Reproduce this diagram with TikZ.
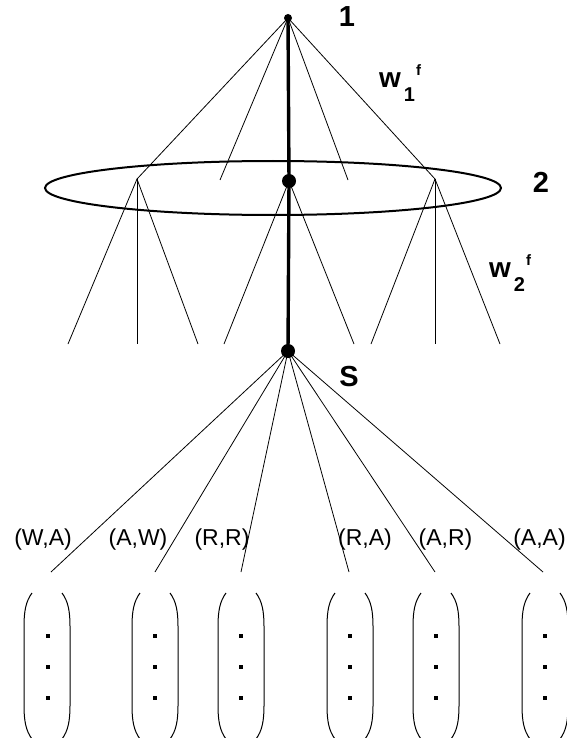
\documentclass[tikz,border=0pt]{standalone}
\usepackage{fontspec}
\usepackage{graphicx}
\setmainfont{Liberation Sans}
\newcommand{\wlabel}[1]{\fontsize{28}{28}\selectfont\bfseries w\hspace{3pt}\raisebox{-14pt}{\fontsize{20}{20}\selectfont #1}\hspace{1pt}\raisebox{12pt}{\fontsize{15}{15}\selectfont f}}
\begin{document}
\begin{tikzpicture}[x=1pt,y=-1pt,
  thinline/.style={line width=0.8pt},
  heavy/.style={line width=3.4pt},
  dotnode/.style={circle,fill=black,inner sep=0pt},
  lbl/.style={font=\fontsize{23}{23}\selectfont, inner sep=0pt, anchor=base},
  big/.style={font=\fontsize{29}{29}\selectfont\bfseries, inner sep=0pt, anchor=base},
  paren/.style={line width=1pt}]
\useasboundingbox (0,0) rectangle (566,738);
% ellipse for level 2
\draw[line width=2pt] (273,188) ellipse [x radius=228, y radius=27];
% nodes
\node[dotnode, minimum size=8pt] (T) at (288,18) {};
\node[dotnode, minimum size=14pt] (M) at (289,181) {};
\node[dotnode, minimum size=14pt] (S) at (288,351) {};
\coordinate (L) at (137,179);
\coordinate (R) at (435,179);
\coordinate (t2) at (220,180);
\coordinate (t4) at (348,180);
% thick path
\draw[heavy] (T.center) -- (M.center) -- (S.center);
% top fan
\foreach \e in {L,t2,t4,R} \draw[thinline] (T.center) -- (\e);
% level 2 fans
\coordinate (l1) at (68,344);
\coordinate (l2) at (137,344);
\coordinate (l3) at (198,344);
\coordinate (m1) at (224,344);
\coordinate (m2) at (354,344);
\coordinate (r1) at (371,344);
\coordinate (r2) at (435,344);
\coordinate (r3) at (500,344);
\foreach \e in {l1,l2,l3} \draw[thinline] (L) -- (\e);
\foreach \e in {m1,m2} \draw[thinline] (M.center) -- (\e);
\foreach \e in {r1,r2,r3} \draw[thinline] (R) -- (\e);
% bottom fan
\foreach \n/\x in {b1/51,b2/155,b3/241,b4/349,b5/435,b6/543} {
  \coordinate (\n) at (\x,572);
  \draw[thinline] (S.center) -- (\n);
}
% labels
\node[big] (one) at (347,27) {1};
\node[big] (two) at (541,193) {2};
\node[big] (ess) at (349,386) {S};
\node[inner sep=0pt, anchor=base west] (w1) at (379,88) {\wlabel{1}};
\node[inner sep=0pt, anchor=base west] (w2) at (489,277) {\wlabel{2}};
\node[lbl] (WA) at (43,545) {(W,A)};
\node[lbl] (AW) at (138,545) {(A,W)};
\node[lbl] (RR) at (222,545) {(R,R)};
\node[lbl] (RA) at (365,545) {(R,A)};
\node[lbl] (AR) at (445.5,545) {(A,R)};
\node[lbl] (AA) at (539.5,545) {(A,A)};
% vectors
\foreach \x in {47,155,241,350,436,545} {
  \draw[paren] (\x-15,593) .. controls (\x-21,601) and (\x-23,611) .. (\x-23,626) -- (\x-23,706) .. controls (\x-23,721) and (\x-21,731) .. (\x-15,739);
  \draw[paren] (\x+15,593) .. controls (\x+21,601) and (\x+23,611) .. (\x+23,626) -- (\x+23,706) .. controls (\x+23,721) and (\x+21,731) .. (\x+15,739);
}
\foreach \x in {48,155,241,350,436,545}
  \foreach \y in {636,667,698} \fill (\x-2,\y-2) rectangle (\x+2,\y+2);
\end{tikzpicture}
\end{document}
